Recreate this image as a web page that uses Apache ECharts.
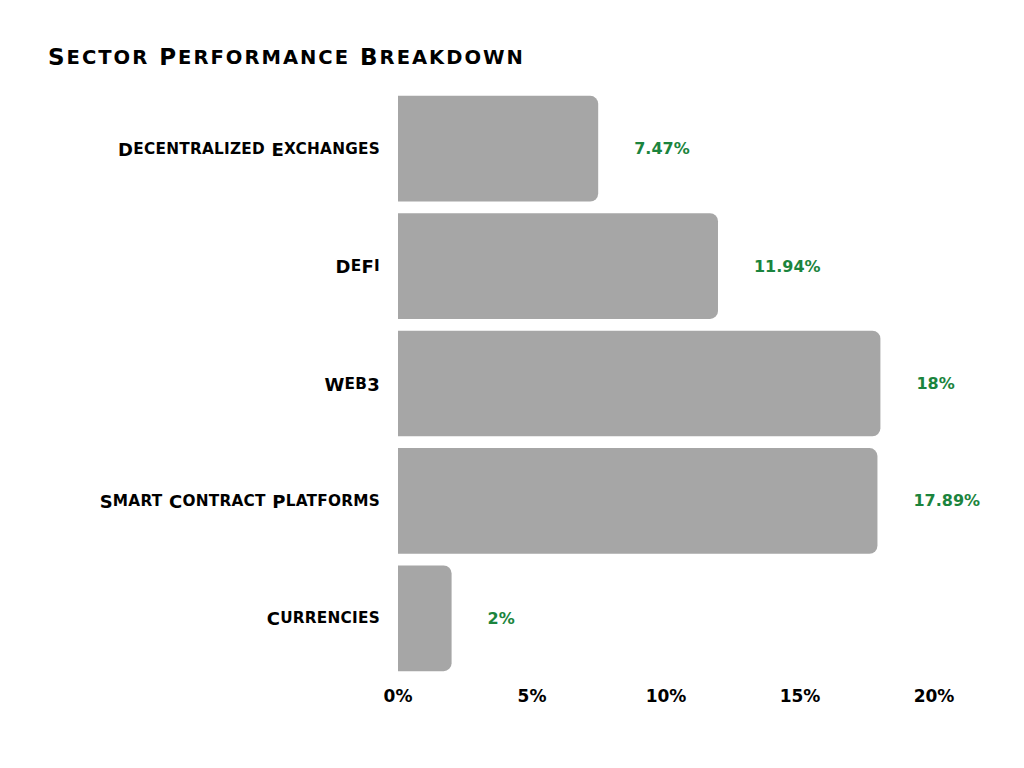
<!DOCTYPE html>
<html>
<head>
<meta charset="utf-8">
<script src="https://cdn.jsdelivr.net/npm/echarts@6/dist/echarts.min.js"></script>
<style>html,body{margin:0;padding:0;background:#fff}#c{width:1024px;height:768px}</style>
</head>
<body>
<div id="c"></div>
<script>
const categories = ["Decentralized Exchanges", "DeFi", "Web3", "Smart Contract Platforms", "Currencies"];
const values = [7.47, 11.94, 18, 17.89, 2];
const tickValues = [0, 5, 10, 15, 20];
const titleText = 'Sector Performance Breakdown';

const chart = echarts.init(document.getElementById('c'), null, {renderer: 'svg'});
chart.setOption({
  backgroundColor: '#ffffff',
  animation: false,
  title: {
    text: titleText,
    left: 48, top: 45, padding: 0,
    textStyle: {fontWeight: 'bold', fontSize: 23, fontFamily: 'DejaVu Sans', color: '#000'}
  },
  grid: {left: 398, right: 90, top: 90, bottom: 91, containLabel: false},
  xAxis: {
    type: 'value', min: 0, max: 20, interval: 5,
    axisLine: {show: false}, axisTick: {show: false}, splitLine: {show: false},
    axisLabel: {formatter: v => v + '%', fontSize: 17, fontWeight: 'bold', fontFamily: 'DejaVu Sans', color: '#000', margin: 10}
  },
  yAxis: {
    type: 'category', inverse: true, data: categories,
    axisLine: {show: false}, axisTick: {show: false},
    axisLabel: {fontWeight: 'bold', fontSize: 18, fontFamily: 'DejaVu Sans', color: '#000', margin: 18}
  },
  series: [{
    type: 'bar', data: values, barCategoryGap: '10%',
    itemStyle: {color: '#a6a6a6', borderRadius: [0, 8, 8, 0]},
    label: {show: true, position: 'right', distance: 36, formatter: p => p.value + '%',
      color: '#1b843d', fontWeight: 'bold', fontSize: 16, fontFamily: 'DejaVu Sans'}
  }]
});
const NS = 'http://www.w3.org/2000/svg';
function applyCaps(t, spacing) {
  if (t.getAttribute('data-sc')) return;
  t.setAttribute('data-sc', '1');
  const s = t.textContent;
  const runs = s.match(/[a-z]+|[^a-z]+/g) || [];
  while (t.firstChild) t.removeChild(t.firstChild);
  runs.forEach(r => {
    const sp = document.createElementNS(NS, 'tspan');
    sp.textContent = r;
    if (/^[a-z]+$/.test(r)) {
      sp.style.fontSize = '85%';
      sp.style.textTransform = 'uppercase';
    }
    t.appendChild(sp);
  });
  t.style.letterSpacing = spacing + 'px';
}
function smallCaps() {
  document.querySelectorAll('#c svg text').forEach(t => {
    if (t.textContent === titleText) applyCaps(t, 2);
    else if (categories.indexOf(t.textContent) >= 0) applyCaps(t, 0.25);
  });
}
chart.on('finished', smallCaps);
smallCaps();
</script>
</body>
</html>
